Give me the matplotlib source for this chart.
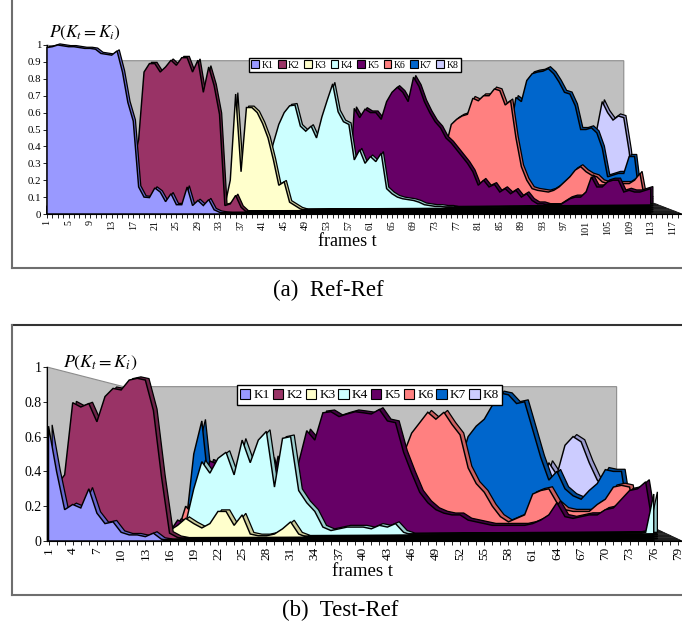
import numpy as np
import matplotlib
matplotlib.use('Agg')
import matplotlib.pyplot as plt
from matplotlib.patches import Patch

plt.rcParams['font.family'] = 'Liberation Serif'
plt.rcParams['mathtext.fontset'] = 'stix'

W, H = 682, 630
names = ['K1', 'K2', 'K3', 'K4', 'K5', 'K6', 'K7', 'K8']
colors = ['#9999FF', '#993366', '#FFFFCC', '#CCFFFF', '#660066', '#FF8080', '#0066CC', '#CCCCFF']
sides = ['#6666CC', '#6B2347', '#CCCC99', '#99CCCC', '#440044', '#CC6060', '#004C99', '#9999CC']

# ---- (a) Ref-Ref : P(K_t = K_i) per frame, each series starts at a_start[k]
a_frames = 113
a_start = [1, 16, 33, 41, 56, 74, 86, 102]
a_k1 = [0.985, 0.99, 1.0, 0.995, 0.99, 0.99, 0.985, 0.98, 0.98, 0.975, 0.95, 0.945,
        0.94, 0.965, 0.84, 0.66, 0.55, 0.16, 0.10, 0.097, 0.154, 0.13, 0.073, 0.12,
        0.055, 0.055, 0.16, 0.05, 0.08, 0.05, 0.085, 0.025, 0.01, 0.005]
a_k2 = [0.3, 0.3, 0.44, 0.84, 0.89, 0.89, 0.84, 0.87, 0.91, 0.88, 0.925, 0.925,
        0.84, 0.91, 0.72, 0.87, 0.76, 0.59, 0.05, 0.06, 0.11, 0.04]
a_k3 = [0.02, 0.05, 0.2, 0.71, 0.25, 0.63, 0.63, 0.6, 0.535, 0.45, 0.32, 0.17,
        0.19, 0.07, 0.05, 0.03, 0.02]
a_k4 = [0.1, 0.3, 0.42, 0.53, 0.6, 0.64, 0.645, 0.52, 0.49, 0.52, 0.45, 0.575,
        0.675, 0.77, 0.605, 0.546, 0.53, 0.32, 0.38, 0.30, 0.34, 0.31, 0.36, 0.15,
        0.12, 0.10, 0.09, 0.085, 0.08, 0.07, 0.055, 0.05, 0.045, 0.045, 0.04, 0.04,
        0.03, 0.03, 0.02]
a_k5 = [0.05, 0.1, 0.625, 0.57, 0.62, 0.6, 0.6, 0.56, 0.665, 0.72, 0.75, 0.72,
        0.665, 0.81, 0.755, 0.665, 0.6, 0.546, 0.51, 0.45, 0.42, 0.38, 0.34, 0.3,
        0.25, 0.17, 0.2, 0.16, 0.175, 0.13, 0.15, 0.12, 0.14, 0.10, 0.12, 0.08,
        0.06, 0.06, 0.05, 0.04, 0.04, 0.07, 0.09, 0.1, 0.1, 0.13, 0.22, 0.16,
        0.16, 0.19, 0.2, 0.2, 0.13, 0.14, 0.13, 0.13, 0.14, 0.15]
a_k6 = [0.1, 0.4, 0.53, 0.56, 0.58, 0.59, 0.685, 0.67, 0.7, 0.7, 0.74, 0.73,
        0.645, 0.67, 0.45, 0.28, 0.2, 0.15, 0.14, 0.135, 0.13, 0.14, 0.16, 0.19,
        0.22, 0.26, 0.28, 0.25, 0.23, 0.22, 0.19, 0.18, 0.18, 0.18, 0.18, 0.18,
        0.2, 0.24]
a_k7 = [0.3, 0.5, 0.69, 0.665, 0.79, 0.83, 0.84, 0.845, 0.86, 0.83, 0.78, 0.72,
        0.71, 0.64, 0.5, 0.5, 0.51, 0.48, 0.39, 0.22, 0.23, 0.24, 0.24, 0.34, 0.34]
a_k8 = [0.3, 0.5, 0.665, 0.6, 0.556, 0.58, 0.57, 0.37]

# ---- (b) Test-Ref
b_frames = 76
b_start = [1, 1, 15, 17, 15, 17, 17, 61]
b_k1 = [0.66, 0.40, 0.18, 0.21, 0.19, 0.30, 0.16, 0.10, 0.11, 0.05, 0.035, 0.035,
        0.025, 0.045, 0.01]
b_k2 = [0.3, 0.32, 0.38, 0.795, 0.77, 0.79, 0.685, 0.83, 0.877, 0.868, 0.925,
        0.935, 0.925, 0.75, 0.37, 0.045, 0.02]
b_k3 = [0.02, 0.06, 0.09, 0.13, 0.1, 0.075, 0.1, 0.17, 0.17, 0.09, 0.15, 0.04,
        0.03, 0.03, 0.04, 0.07, 0.11, 0.04, 0.02]
b_k4 = [0.05, 0.1, 0.3, 0.456, 0.39, 0.475, 0.51, 0.38, 0.58, 0.45, 0.58, 0.63,
        0.31, 0.59, 0.60, 0.29, 0.22, 0.17, 0.08, 0.06, 0.07, 0.08, 0.08, 0.08,
        0.07, 0.09, 0.08, 0.1, 0.05, 0.03, 0.02, 0.02, 0.02, 0.02, 0.02, 0.02,
        0.02, 0.02, 0.02, 0.02, 0.02, 0.02, 0.02, 0.02, 0.02, 0.02, 0.02, 0.02,
        0.02, 0.02, 0.02, 0.02, 0.02, 0.02, 0.02, 0.02, 0.02, 0.02, 0.05, 0.27]
b_k5 = [0.02, 0.05, 0.12, 0.1, 0.05, 0.3, 0.46, 0.44, 0.3, 0.2, 0.2, 0.2, 0.2,
        0.25, 0.48, 0.3, 0.35, 0.45, 0.634, 0.58, 0.737, 0.743, 0.715, 0.73,
        0.743, 0.737, 0.73, 0.756, 0.69, 0.68, 0.51, 0.39, 0.28, 0.22, 0.18,
        0.16, 0.15, 0.15, 0.12, 0.11, 0.10, 0.09, 0.09, 0.09, 0.09, 0.09, 0.1,
        0.12, 0.15, 0.22, 0.14, 0.13, 0.14, 0.15, 0.15, 0.18, 0.19, 0.24, 0.29,
        0.30, 0.34]
b_k6 = [0.05, 0.2, 0.15, 0.05, 0.0, 0.0, 0.0, 0.0, 0.0, 0.0, 0.0, 0.0, 0.0, 0.0,
        0.0, 0.0, 0.0, 0.0, 0.0, 0.0, 0.0, 0.0, 0.0, 0.0, 0.0, 0.0, 0.15, 0.3,
        0.5, 0.62, 0.68, 0.74, 0.70, 0.74, 0.67, 0.61, 0.42, 0.33, 0.28, 0.2,
        0.14, 0.11, 0.13, 0.15, 0.27, 0.29, 0.30, 0.22, 0.18, 0.17, 0.17, 0.17,
        0.21, 0.24, 0.31, 0.32, 0.31]
b_k7 = [0.02, 0.08, 0.5, 0.69, 0.25, 0.1, 0.0, 0.0, 0.0, 0.0, 0.0, 0.0, 0.0, 0.0,
        0.0, 0.0, 0.0, 0.0, 0.0, 0.0, 0.0, 0.0, 0.0, 0.0, 0.0, 0.0, 0.0, 0.0,
        0.0, 0.0, 0.0, 0.0, 0.0, 0.0, 0.3, 0.45, 0.6, 0.66, 0.7, 0.78, 0.85,
        0.84, 0.79, 0.8, 0.64, 0.48, 0.35, 0.4, 0.3, 0.26, 0.24, 0.29, 0.33,
        0.41, 0.40, 0.40, 0.1]
b_k8 = [0.1, 0.3, 0.45, 0.38, 0.55, 0.6, 0.57, 0.45, 0.35, 0.3, 0.1]


def full(start, vals, n):
    arr = np.zeros(n)
    arr[start - 1:start - 1 + len(vals)] = vals
    return arr


def add_ax(x0, x1, ytop, ybot):
    return fig.add_axes([x0 / W, 1 - ybot / H, (x1 - x0) / W, (ybot - ytop) / H])


def draw_panel(ax, series, n, x_end, spine_x, wall_x, wall_top, back_x, bdx,
               h_left, h_right, h_ext, step, ystep, fs_x, fs_y):
    x = np.arange(1, n + 1)
    # floor depth grows towards the right (perspective)
    floor_h = h_left + (h_right - h_left) * (x - 1) / (n - 1)
    dstep = floor_h / 8
    ax.fill([spine_x, spine_x, back_x, wall_x, wall_x], [0, 1, wall_top, wall_top, 0],
            facecolor='#c0c0c0', edgecolor='#8c8c8c', lw=0.8, zorder=0)
    ax.fill([1, x_end, n + 0.5, n, 1], [0, 0, h_ext, h_ext, h_left * 0.6],
            facecolor='#0a0a0a', edgecolor='black', lw=0.6, zorder=1)
    for i in range(1, 8):
        yy = h_ext * i / 8
        ax.plot([n, x_end - (x_end - n - 0.5) * i / 8], [yy, yy], color='#666666',
                lw=0.3, zorder=1.5)
    ds = np.concatenate([[dstep[0]], dstep, [dstep[-1]]])
    for k in range(7, -1, -1):
        base = dstep * k
        top = np.maximum(series[k], base + 0.3 * dstep)
        px = np.concatenate([[x[0]], x, [x[-1]]])
        py = np.concatenate([[base[0]], top, [base[-1]]])
        z = 2 + 2 * (7 - k)
        ax.fill(px + bdx, py + ds, facecolor=sides[k], edgecolor='black', lw=0.9,
                zorder=z)
        ax.fill(px, py, facecolor=colors[k], edgecolor='black', lw=1.05, zorder=z + 1)

    for s in ['top', 'right']:
        ax.spines[s].set_visible(False)
    ax.spines['left'].set_position(('data', spine_x))
    ax.spines['left'].set_bounds(0, 1)
    ax.spines['bottom'].set_position(('data', 0))
    ax.spines['bottom'].set_bounds(spine_x, x_end)
    ax.spines['bottom'].set_zorder(30)
    ax.set_facecolor('none')
    ticks = np.arange(1, int(x_end) + 1)
    ax.set_xticks(ticks)
    ax.set_xticklabels([str(t) if (t - 1) % step == 0 else '' for t in ticks],
                       rotation=90, fontsize=fs_x)
    yt = np.round(np.arange(0, 1.0001, ystep), 1)
    ax.set_yticks(yt)
    ax.set_yticklabels([f'{v:g}' for v in yt], fontsize=fs_y)
    ax.tick_params(axis='x', direction='out', length=3, width=0.6, pad=1.5)
    ax.tick_params(axis='y', direction='out', length=3, width=0.6, pad=1)


fig = plt.figure(figsize=(W / 100, H / 100), dpi=100)

# panel (a)
ax1 = add_ax(47 - 0.4 * 5.39, 682, 214 - 1.06 * 169, 214 + 0.05 * 169)
ax1.set_xlim(0.6, 118.8)
ax1.set_ylim(-0.05, 1.06)
a_series = [full(s, v, a_frames) for s, v in
            zip(a_start, [a_k1, a_k2, a_k3, a_k4, a_k5, a_k6, a_k7, a_k8])]
draw_panel(ax1, a_series, a_frames, 118.8, 0.95, 108, 0.907, 14.9, 0.4, 0.05, 0.1,
           0.065, 4, 0.1, 7.2, 7.8)

# panel (b)
ax2 = add_ax(48.5 - 0.4 * 8.07, 48.5 + 78.6 * 8.07, 541 - 1.06 * 174, 541 + 0.05 * 174)
ax2.set_xlim(0.6, 79.6)
ax2.set_ylim(-0.05, 1.06)
b_series = [full(s, v, b_frames) for s, v in
            zip(b_start, [b_k1, b_k2, b_k3, b_k4, b_k5, b_k6, b_k7, b_k8])]
draw_panel(ax2, b_series, b_frames, 79.5, 0.8, 71.4, 0.887, 10.3, 0.45, 0.06, 0.1,
           0.065, 3, 0.2, 9.5, 10)

handles = [Patch(facecolor=c, edgecolor='black', lw=0.8) for c in colors]
for cx, cy, fs, cs in [(355, 65, 7, 0.45), (369.5, 395, 9.5, 0.2)]:
    leg = fig.legend(handles, names, ncol=8, loc='center',
                     bbox_to_anchor=(cx / W, 1 - cy / H), fontsize=fs, frameon=True,
                     fancybox=False, edgecolor='black', framealpha=1,
                     handlelength=0.8, handleheight=0.8, handletextpad=0.25,
                     columnspacing=cs, borderpad=0.25, borderaxespad=0)
    leg.get_frame().set_linewidth(1.0)

fig.text(49 / W, 1 - 33 / H, r'$P(K_t = K_i)$', fontsize=12.5, va='center', ha='left')
fig.text(63 / W, 1 - 363 / H, r'$P(K_t = K_i)$', fontsize=13, va='center', ha='left')
fig.text(347 / W, 1 - 242 / H, 'frames t', fontsize=13, ha='center', va='center')
fig.text(362 / W, 1 - 572 / H, 'frames t', fontsize=13.5, ha='center', va='center')
fig.text(328 / W, 1 - 290 / H, '(a)  Ref-Ref', fontsize=16.5, ha='center', va='center')
fig.text(340 / W, 1 - 610 / H, '(b)  Test-Ref', fontsize=16.5, ha='center', va='center')

# panel frames
fc = '#6e6e6e'
fig.add_artist(plt.Line2D([12 / W, 12 / W], [1, 1 - 268 / H], color=fc, lw=1.5))
fig.add_artist(plt.Line2D([12 / W, 1], [1 - 268 / H, 1 - 268 / H], color=fc, lw=1.5))
fig.add_artist(plt.Line2D([12 / W, 1], [1 - 325 / H, 1 - 325 / H], color='#333333', lw=1.5))
fig.add_artist(plt.Line2D([12 / W, 12 / W], [1 - 325 / H, 1 - 595 / H], color=fc, lw=1.5))
fig.add_artist(plt.Line2D([12 / W, 1], [1 - 595 / H, 1 - 595 / H], color=fc, lw=1.5))

fig.savefig('out.png', dpi=100)
